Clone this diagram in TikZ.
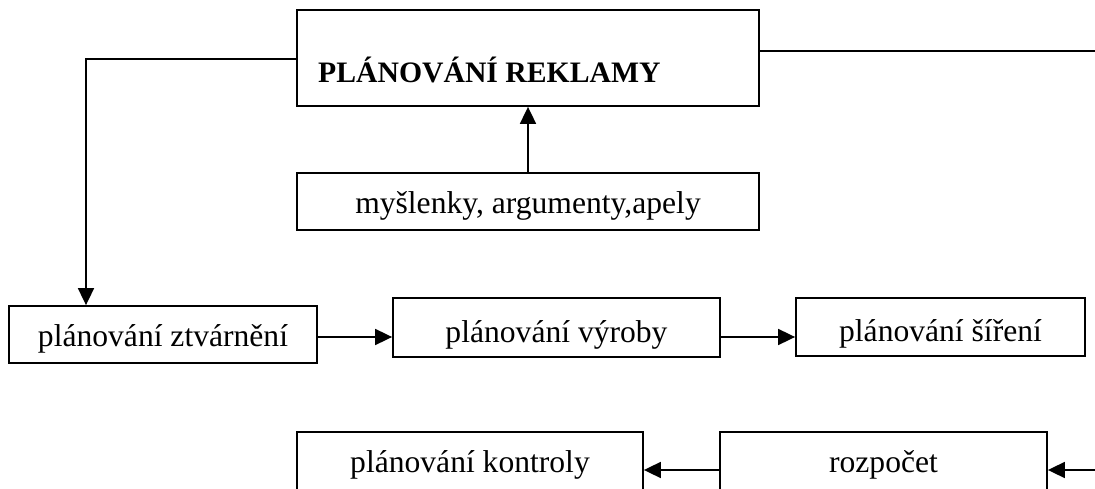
\documentclass[tikz,border=0pt]{standalone}
\usepackage{fontspec}
\setmainfont{Liberation Serif}
\usetikzlibrary{arrows.meta}
\begin{document}
\begin{tikzpicture}[x=1pt,y=-1pt,
  box/.style={draw=black, line width=1.8pt, rectangle, inner sep=0pt,
    font=\fontsize{31.6}{36}\selectfont, text height=31.6pt, text depth=7.9pt},
  conn/.style={line width=1.8pt},
  arr/.style={conn, -{Triangle[length=17pt,width=16pt]}},
  ttl/.style={inner sep=0pt, anchor=base west, font=\fontsize{29.7}{36}\selectfont\bfseries}]
\useasboundingbox (0,0) rectangle (1095,489);
\clip (0,0) rectangle (1095,489);
\fill[white] (0,0) rectangle (1095,489);
% boxes
\node[box, minimum width=462pt, minimum height=96pt] (plan) at (528,58) {};
\node[ttl] (title) at (318,83) {PLÁNOVÁNÍ REKLAMY};
\node[box, minimum width=462pt, minimum height=57pt] (idea) at (528,201.5) {myšlenky, argumenty,apely};
\node[box, minimum width=308pt, minimum height=57pt] (ztv) at (163,334.5) {plánování ztvárnění};
\node[box, minimum width=327pt, minimum height=59pt, text height=36.9pt] (vyr) at (556.5,327.5) {plánování výroby};
\node[box, minimum width=289pt, minimum height=58pt, text height=36.9pt] (sir) at (940.5,327) {plánování šíření};
\node[box, minimum width=346pt, minimum height=58pt] (kon) at (470,461) {plánování kontroly};
\node[box, minimum width=327pt, minimum height=58pt] (roz) at (883.5,461) {rozpočet};
% helper coordinates
\coordinate (c1) at (86,59);
\coordinate (r1) at (1095,51);
\coordinate (ya) at (0,337);
\coordinate (r2) at (1095,470);
% connectors
\draw[arr] (idea.north) -- (plan.south);
\draw[arr] (c1 -| plan.west) -- (c1) -- (c1 |- ztv.north);
\draw[conn] (r1 -| plan.east) -- (r1);
\draw[arr] (ya -| ztv.east) -- (ya -| vyr.west);
\draw[arr] (ya -| vyr.east) -- (ya -| sir.west);
\draw[arr] (r2) -- (r2 -| roz.east);
\draw[arr] (r2 -| roz.west) -- (r2 -| kon.east);
\end{tikzpicture}
\end{document}
